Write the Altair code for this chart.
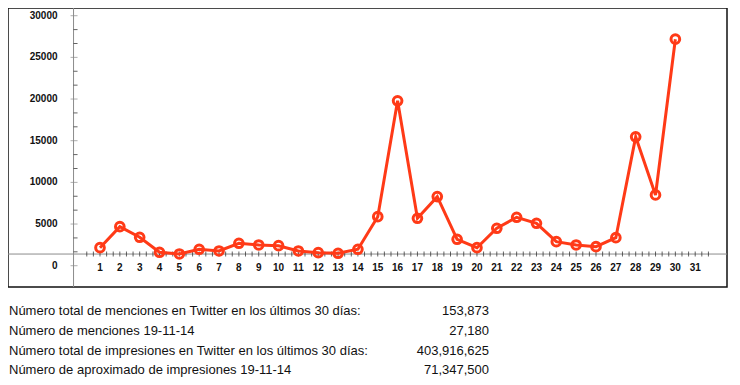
import altair as alt
import pandas as pd

# ---- data ----
days = list(range(1, 31))
mentions = [2160, 4680, 3410, 1610, 1405, 1970, 1765, 2690, 2485, 2400,
            1765, 1560, 1490, 1970, 5885, 19780, 5690, 8290, 3170, 2160,
            4490, 5810, 5090, 2880, 2485, 2280, 3360, 15460, 8490, 27180]

y_tick_values = [0, 5000, 10000, 15000, 20000, 25000, 30000]
y_tick_labels = ["0", "5000", "10000", "15000", "20000", "25000", "30000"]
x_label_days = list(range(1, 32))
x_tick_labels = [str(d) for d in x_label_days]

summary_labels = [
    "Número total de menciones en Twitter en los últimos 30 días:",
    "Número de menciones 19-11-14",
    "Número total de impresiones en Twitter en los últimos 30 días:",
    "Número de aproximado de impresiones 19-11-14",
]
summary_values = ["153,873", "27,180", "403,916,625", "71,347,500"]

# ---- axis structure ----
AXIS_CROSS = 1400          # value at which the horizontal axis line sits
Y_AXIS_POS = -1 / 3        # day position of the vertical axis line
y_minor = [k * 5000 / 3 for k in range(19) if k % 3 != 0]
x_minor = [k / 3 for k in range(1, 96)]

W, H = 719, 279
RED = "#ff3a17"
FONT = "Liberation Sans"

x_scale = alt.Scale(domain=[-3.637, 32.603], nice=False, zero=False)
y_scale = alt.Scale(domain=[-2556, 30924], nice=False, zero=False)

df = pd.DataFrame({"day": days, "mentions": mentions})
df_ymaj = pd.DataFrame({"v": y_tick_values, "lab": y_tick_labels, "ax": Y_AXIS_POS})
df_ymin = pd.DataFrame({"v": y_minor, "ax": Y_AXIS_POS})
df_xt = pd.DataFrame({"d": x_minor, "cross": AXIS_CROSS})
df_xl = pd.DataFrame({"d": x_label_days, "lab": x_tick_labels, "cross": AXIS_CROSS})
df_rows = pd.DataFrame({"row": list(range(len(summary_labels))),
                        "label": summary_labels, "value": summary_values})

X = lambda f: alt.X(f, type="quantitative", scale=x_scale, axis=None)
Y = lambda f: alt.Y(f, type="quantitative", scale=y_scale, axis=None)

y_axis_line = alt.Chart(pd.DataFrame({"ax": [Y_AXIS_POS]})).mark_rule(
    color="#8c8c8c", strokeWidth=1).encode(x=X("ax"))
x_axis_line = alt.Chart(pd.DataFrame({"cross": [AXIS_CROSS]})).mark_rule(
    color="#8c8c8c", strokeWidth=1).encode(y=Y("cross"))

y_minor_ticks = alt.Chart(df_ymin).mark_tick(
    orient="horizontal", size=4, thickness=1, color="#222222", xOffset=2
).encode(x=X("ax"), y=Y("v"))
y_major_ticks = alt.Chart(df_ymaj).mark_tick(
    orient="horizontal", size=7, thickness=1, color="#8c8c8c", xOffset=0.5
).encode(x=X("ax"), y=Y("v"))
y_labels = alt.Chart(df_ymaj).mark_text(
    align="right", baseline="middle", dx=-16, font=FONT, fontSize=10,
    fontWeight="bold", color="#111111"
).encode(x=X("ax"), y=Y("v"), text="lab:N")

x_ticks = alt.Chart(df_xt).mark_tick(
    orient="vertical", size=5, thickness=1, color="#222222"
).encode(x=X("d"), y=Y("cross"))
x_labels = alt.Chart(df_xl).mark_text(
    align="center", baseline="middle", dy=14, font=FONT, fontSize=10,
    fontWeight="bold", color="#111111"
).encode(x=X("d"), y=Y("cross"), text="lab:N")

line = alt.Chart(df).mark_line(color=RED, strokeWidth=3).encode(
    x=X("day"), y=Y("mentions"))
points = alt.Chart(df).mark_point(
    shape="circle", filled=False, size=75, strokeWidth=3, color=RED, opacity=1
).encode(x=X("day"), y=Y("mentions"))

main = alt.layer(y_axis_line, x_axis_line, y_minor_ticks, y_major_ticks, y_labels,
                 x_ticks, x_labels, line, points)

row_scale = alt.Scale(domain=[0, 3], range=[303, 362.3], nice=False, zero=False)
row_labels = alt.Chart(df_rows).mark_text(
    align="left", baseline="middle", font=FONT, fontSize=13, color="#111111"
).encode(x=alt.value(1), y=alt.Y("row:Q", scale=row_scale, axis=None), text="label:N")
row_values = alt.Chart(df_rows).mark_text(
    align="right", baseline="middle", font=FONT, fontSize=13, color="#111111"
).encode(x=alt.value(481), y=alt.Y("row:Q", scale=row_scale, axis=None), text="value:N")

chart = alt.layer(main, row_labels, row_values).resolve_scale(
    y="independent"
).properties(
    width=W, height=H,
    autosize=alt.AutoSizeParams(type="none"),
    padding={"left": 0, "top": 0, "right": 5, "bottom": 90},
    background="white",
).configure_view(stroke="#111111", strokeWidth=1.5)

chart.save("out.html", embed_options={"renderer": "svg", "actions": False})
